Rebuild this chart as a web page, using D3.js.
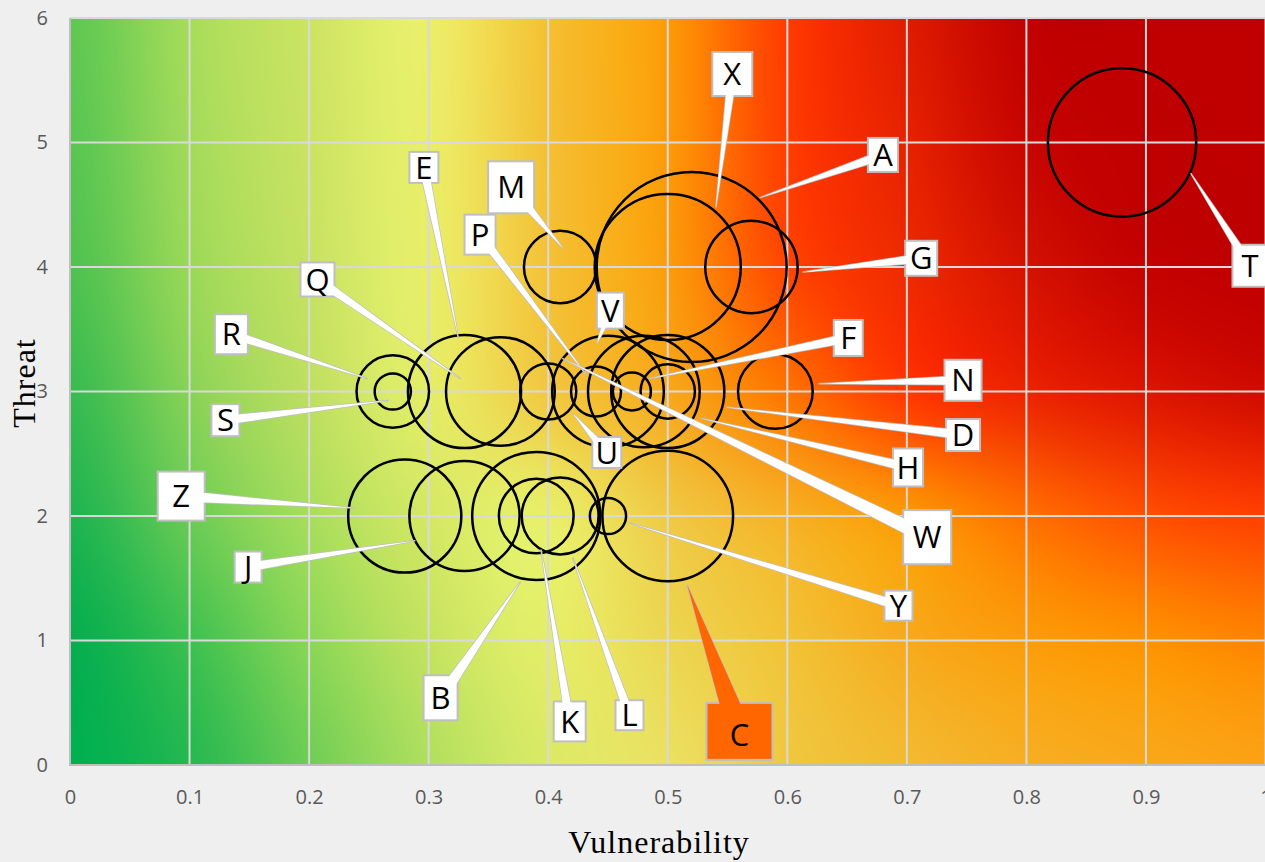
<!DOCTYPE html>
<html>
<head>
<meta charset="utf-8">
<script src="https://cdn.jsdelivr.net/npm/d3@7"></script>
<style>
  html, body { margin: 0; padding: 0; background: #efefef; }
  svg { display: block; }
</style>
</head>
<body>
<div id="chart"></div>
<script>
const width = 1265;
const height = 862;

// ------------------
// data
// ------------------
const names         = ["A", "B", "C", "D", "E", "F", "G", "H", "J", "K", "L", "M", "N", "P", "Q", "R", "S", "T", "U", "V", "W", "X", "Y", "Z"];
const vulnerability = [0.52, 0.39, 0.50, 0.50, 0.33, 0.47, 0.57, 0.50, 0.33, 0.39, 0.41, 0.41, 0.59, 0.44, 0.36, 0.27, 0.27, 0.88, 0.40, 0.48, 0.45, 0.50, 0.45, 0.28];
const threat        = [4, 2, 2, 3, 3, 3, 4, 3, 2, 2, 2, 4, 3, 3, 3, 3, 3, 5, 3, 3, 3, 4, 2, 2];
const impact        = [55, 25, 26, 19.5, 19.5, 2.2, 13, 4.5, 18.5, 8.5, 9, 8, 8.5, 3.8, 18, 8, 2, 33.5, 4.8, 19, 19, 32.5, 2, 19.5];

const xTicks = [0, 0.1, 0.2, 0.3, 0.4, 0.5, 0.6, 0.7, 0.8, 0.9, 1];
const xTickLabels = ["0", "0.1", "0.2", "0.3", "0.4", "0.5", "0.6", "0.7", "0.8", "0.9", "1"];
const yTicks = [0, 1, 2, 3, 4, 5, 6];

// ------------------
// label callouts (position in data units, box size, leader tip in bubble radii)
// ------------------
const labelLayout = [
    { name: "A", lv: 0.680, lt: 4.90, w: 30, h: 34, tip: [0.72, -0.73] },
    { name: "B", lv: 0.310, lt: 0.54, w: 34, h: 45, tip: [-0.25, 1.03], wedge: 12 },
    { name: "C", lv: 0.560, lt: 0.27, w: 66, h: 57, tip: [0.30, 1.06], fill: "#ff6600", wedge: 24 },
    { name: "D", lv: 0.747, lt: 2.65, w: 34, h: 32, tip: [1.05, 0.28] },
    { name: "E", lv: 0.296, lt: 4.80, w: 29, h: 31, tip: [-0.11, -0.95] },
    { name: "F", lv: 0.651, lt: 3.43, w: 29, h: 36, tip: [0.95, -0.68] },
    { name: "G", lv: 0.712, lt: 4.07, w: 32, h: 35, tip: [1.12, 0.11] },
    { name: "H", lv: 0.701, lt: 2.39, w: 30, h: 38, tip: [1.26, 0.99] },
    { name: "J", lv: 0.149, lt: 1.59, w: 27, h: 31, tip: [-0.90, 0.45] },
    { name: "K", lv: 0.418, lt: 0.35, w: 32, h: 40, tip: [0.13, 0.91] },
    { name: "L", lv: 0.468, lt: 0.40, w: 28, h: 30, tip: [0.33, 1.09] },
    { name: "M", lv: 0.369, lt: 4.64, w: 46, h: 52, tip: [0.08, -0.52], wedge: 11 },
    { name: "N", lv: 0.747, lt: 3.09, w: 37, h: 41, tip: [1.17, -0.21] },
    { name: "P", lv: 0.343, lt: 4.26, w: 31, h: 40, tip: [-0.40, -0.68] },
    { name: "Q", lv: 0.207, lt: 3.90, w: 34, h: 34, tip: [-0.74, -0.24] },
    { name: "R", lv: 0.135, lt: 3.46, w: 33, h: 40, tip: [-0.71, -0.36] },
    { name: "S", lv: 0.130, lt: 2.77, w: 28, h: 32, tip: [-0.27, 0.50] },
    { name: "T", lv: 0.987, lt: 4.01, w: 35, h: 42, tip: [0.93, 0.42] },
    { name: "U", lv: 0.449, lt: 2.51, w: 29, h: 31, tip: [0.89, 0.79] },
    { name: "V", lv: 0.452, lt: 3.65, w: 27, h: 36, tip: [-0.84, -0.86] },
    { name: "W", lv: 0.717, lt: 1.83, w: 48, h: 54, tip: [-0.81, -0.59], wedge: 14 },
    { name: "X", lv: 0.554, lt: 5.55, w: 40, h: 44, tip: [0.66, -0.82] },
    { name: "Y", lv: 0.693, lt: 1.28, w: 28, h: 30, tip: [1.22, 0.39] },
    { name: "Z", lv: 0.093, lt: 2.16, w: 47, h: 49, tip: [-0.90, -0.14], wedge: 11 }
];

// ------------------
// background colour field (green -> yellow -> orange -> dark red)
// ------------------
const gradV = [0, 0.1, 0.2, 0.3, 0.4, 0.5, 0.6, 0.7, 0.8, 0.9, 1];
const gradT = [6, 5, 4, 3, 2, 1, 0];
const gradColors = [
    ["#5ec852", "#a6dc5a", "#cce462", "#ebee68", "#f5c032", "#fc9a08", "#ff3c00", "#df1c00", "#c20200", "#c00000", "#c00000"],
    ["#58c651", "#a2da5a", "#cae362", "#e9ed67", "#f4c034", "#fc9a0a", "#ff3e00", "#e62200", "#c80600", "#c00000", "#c00000"],
    ["#4ec250", "#9ad858", "#c6e262", "#e8ed67", "#f4c236", "#fb9c0c", "#ff4600", "#ee2a00", "#d41200", "#c40200", "#c00000"],
    ["#38bb50", "#88d257", "#bedf60", "#e4ec66", "#f1c840", "#f7a81c", "#fe7400", "#ff3800", "#ec2400", "#dc1600", "#d00c00"],
    ["#1eb450", "#6acb55", "#a8dd5c", "#d4e864", "#e8ee68", "#f0c944", "#f6b024", "#fc9806", "#ff7000", "#ff5000", "#ff4000"],
    ["#06ae4f", "#3ec050", "#8ad657", "#c4e360", "#e4ed67", "#ecd650", "#f2c236", "#f7aa1c", "#fb9c0a", "#fe9200", "#ff8400"],
    ["#00b050", "#26b850", "#6ecd55", "#b0df5e", "#dae965", "#ebe060", "#efc840", "#f3ba30", "#f7ae22", "#f9a81a", "#fba214"]
];

// ------------------
// scales
// ------------------
const x = d3.scaleLinear().domain([0, 1]).range([70, 1265.5]);
const y = d3.scaleLinear().domain([0, 6]).range([765, 18]);
const r = d3.scaleSqrt().domain([0, 55]).range([0, 95]);

const svg = d3.select("#chart")
    .append("svg")
    .attr("width", width)
    .attr("height", height);

// ------------------
// background image (catmull-rom through the colour grid)
// ------------------
function cr(p0, p1, p2, p3, t) {
    return 0.5 * (2 * p1 + (-p0 + p2) * t + (2 * p0 - 5 * p1 + 4 * p2 - p3) * t * t + (-p0 + 3 * p1 - 3 * p2 + p3) * t * t * t);
}
function sample(arr, pos) {
    const n = arr.length;
    let i = Math.floor(pos);
    if (i >= n - 1) i = n - 2;
    if (i < 0) i = 0;
    const f = pos - i;
    const g = k => arr[Math.max(0, Math.min(n - 1, k))];
    return cr(g(i - 1), g(i), g(i + 1), g(i + 2), f);
}

const pw = Math.ceil(x(1) - x(0));
const ph = Math.round(y(0) - y(6));
const canvas = document.createElement("canvas");
canvas.width = pw;
canvas.height = ph;
const ctx = canvas.getContext("2d");
const img = ctx.createImageData(pw, ph);

const gridRgb = gradColors.map(row => row.map(c => { const o = d3.rgb(c); return [o.r, o.g, o.b]; }));
// horizontal pass: for each grid row, colour at each pixel column
const rowCols = gridRgb.map(row => {
    const chans = [0, 1, 2].map(k => row.map(c => c[k]));
    const out = new Float32Array(pw * 3);
    for (let px = 0; px < pw; px++) {
        const v = x.invert(x(0) + px + 0.5);
        const pos = (v - gradV[0]) / (gradV[1] - gradV[0]);
        for (let k = 0; k < 3; k++) out[px * 3 + k] = sample(chans[k], pos);
    }
    return out;
});
for (let py = 0; py < ph; py++) {
    const t = y.invert(y(6) + py + 0.5);
    const pos = (gradT[0] - t) / (gradT[0] - gradT[1]);
    for (let px = 0; px < pw; px++) {
        const idx = (py * pw + px) * 4;
        for (let k = 0; k < 3; k++) {
            const col = rowCols.map(rc => rc[px * 3 + k]);
            img.data[idx + k] = Math.max(0, Math.min(255, Math.round(sample(col, pos))));
        }
        img.data[idx + 3] = 255;
    }
}
ctx.putImageData(img, 0, 0);

svg.append("image")
    .attr("href", canvas.toDataURL())
    .attr("x", x(0))
    .attr("y", y(6))
    .attr("width", pw)
    .attr("height", ph)
    .attr("preserveAspectRatio", "none");

// ------------------
// grid
// ------------------
svg.append("g")
    .selectAll("line")
    .data(xTicks.slice(1))
    .enter()
    .append("line")
    .attr("x1", d => x(d)).attr("x2", d => x(d))
    .attr("y1", y(0)).attr("y2", y(6))
    .attr("stroke", "#d9d9d9")
    .attr("stroke-width", 2);

svg.append("g")
    .selectAll("line")
    .data(yTicks.slice(1))
    .enter()
    .append("line")
    .attr("x1", x(0)).attr("x2", x(1))
    .attr("y1", d => y(d)).attr("y2", d => y(d))
    .attr("stroke", "#d9d9d9")
    .attr("stroke-width", 2);

// axis lines
svg.append("line")
    .attr("x1", x(0)).attr("x2", x(0)).attr("y1", y(0) + 1).attr("y2", y(6))
    .attr("stroke", "#bfbfbf").attr("stroke-width", 2);
svg.append("line")
    .attr("x1", x(0)).attr("x2", x(1)).attr("y1", y(0)).attr("y2", y(0))
    .attr("stroke", "#bfbfbf").attr("stroke-width", 2);

// tick labels
const xAxis = svg.append("g")
    .attr("transform", `translate(0,${y(0)})`)
    .call(d3.axisBottom(x).tickValues(xTicks).tickSize(0).tickPadding(25).tickFormat((d, i) => xTickLabels[i]));
const yAxis = svg.append("g")
    .attr("transform", `translate(${x(0)},0)`)
    .call(d3.axisLeft(y).tickValues(yTicks).tickSize(0).tickPadding(22).tickFormat(d3.format("d")));
[xAxis, yAxis].forEach(a => {
    a.select(".domain").remove();
    a.selectAll("text")
        .attr("fill", "#595959")
        .style("font-family", "'Open Sans', 'Noto Sans', sans-serif")
        .style("font-size", "20px");
});

// axis titles
svg.append("text")
    .attr("x", 659)
    .attr("y", 853)
    .attr("text-anchor", "middle")
    .style("font-family", "'Palatino Linotype', 'Book Antiqua', 'Liberation Serif', serif")
    .style("font-size", "32px")
    .style("letter-spacing", "1px")
    .attr("fill", "#000")
    .text("Vulnerability");

svg.append("text")
    .attr("transform", "translate(35,383) rotate(-90)")
    .attr("text-anchor", "middle")
    .style("font-family", "'Palatino Linotype', 'Book Antiqua', 'Liberation Serif', serif")
    .style("font-size", "32px")
    .style("letter-spacing", "1px")
    .attr("fill", "#000")
    .text("Threat");

// ------------------
// bubbles
// ------------------
const bubbles = names.map((n, i) => ({ name: n, v: vulnerability[i], t: threat[i], s: impact[i] }));

svg.append("g")
    .selectAll("circle")
    .data(bubbles)
    .enter()
    .append("circle")
    .attr("cx", d => x(d.v))
    .attr("cy", d => y(d.t))
    .attr("r", d => r(d.s))
    .attr("fill", "none")
    .attr("stroke", "#000")
    .attr("stroke-width", 2.5);

// ------------------
// callouts
// ------------------
const callouts = labelLayout.map(l => {
    const b = bubbles.find(d => d.name === l.name);
    const rad = r(b.s);
    return {
        ...l,
        cx: x(l.lv),
        cy: y(l.lt),
        tx: x(b.v) + l.tip[0] * rad,
        ty: y(b.t) + l.tip[1] * rad
    };
});

function wedge(d) {
    const dx = d.tx - d.cx, dy = d.ty - d.cy;
    const len = Math.hypot(dx, dy);
    const nx = -dy / len, ny = dx / len;
    const w = (d.wedge || 9) / 2;
    return [[d.cx + nx * w, d.cy + ny * w], [d.tx, d.ty], [d.cx - nx * w, d.cy - ny * w]]
        .map(p => p.join(",")).join(" ");
}

const cg = svg.append("g")
    .selectAll("g")
    .data(callouts)
    .enter()
    .append("g");

cg.append("polygon")
    .attr("points", wedge)
    .attr("fill", d => d.fill || "#fff")
    .attr("stroke", "#bfbfbf")
    .attr("stroke-width", 1.5)
    .attr("stroke-linejoin", "round");

cg.append("rect")
    .attr("x", d => d.cx - d.w / 2)
    .attr("y", d => d.cy - d.h / 2)
    .attr("width", d => d.w)
    .attr("height", d => d.h)
    .attr("fill", d => d.fill || "#fff")
    .attr("stroke", "#bfbfbf")
    .attr("stroke-width", 2);

cg.append("polygon")
    .attr("points", wedge)
    .attr("fill", d => d.fill || "#fff");

cg.append("text")
    .attr("x", d => d.cx)
    .attr("y", d => d.cy)
    .attr("dy", d => d.name === "C" ? "0.48em" : "0.36em")
    .attr("text-anchor", "middle")
    .style("font-family", "'Open Sans', 'Noto Sans', sans-serif")
    .style("font-size", "31px")
    .attr("fill", "#000")
    .text(d => d.name);
</script>
</body>
</html>
